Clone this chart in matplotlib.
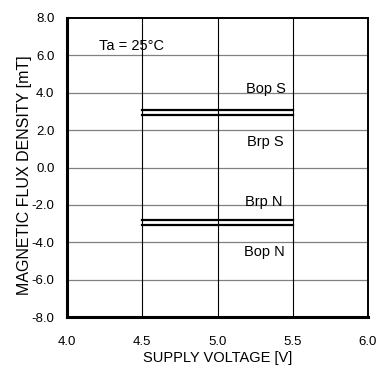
import matplotlib
matplotlib.use("Agg")
import matplotlib.pyplot as plt

plt.rcParams['font.family'] = ['Liberation Sans', 'DejaVu Sans']

# threshold lines (mT), drawn from 4.5 V to 5.5 V
vdd_range = [4.5, 5.5]
bop_s = 3.1
brp_s = 2.8
brp_n = -2.8
bop_n = -3.1

x_ticks = [4.0, 4.5, 5.0, 5.5, 6.0]
y_ticks = [-8.0, -6.0, -4.0, -2.0, 0.0, 2.0, 4.0, 6.0, 8.0]

W, H = 377, 365
fig = plt.figure(figsize=(W / 100, H / 100), dpi=100)
ax = fig.add_axes([67 / W, 1 - 317 / H, 301 / W, 299 / H])
ax.set_xlim(4.0, 6.0)
ax.set_ylim(-8.0, 8.0)

for yv in y_ticks[1:-1]:
    ax.axhline(yv, color='#808080', lw=0.9, zorder=1)
for xv in x_ticks[1:-1]:
    ax.axvline(xv, color='black', lw=0.8, zorder=1)

for val in [bop_s, brp_s, brp_n, bop_n]:
    ax.plot(vdd_range, [val, val], color='black', lw=1.6, zorder=3)

ax.set_xticks(x_ticks)
ax.set_xticklabels([f'{v:.1f}' for v in x_ticks])
ax.set_yticks(y_ticks)
ax.set_yticklabels([f'{v:.1f}' for v in y_ticks])
ax.tick_params(length=0, labelsize=9.5)
ax.tick_params(axis='x', pad=14)
ax.tick_params(axis='y', pad=9)

ax.spines['left'].set_linewidth(2.2)
ax.spines['bottom'].set_linewidth(2.2)
ax.spines['top'].set_linewidth(1.4)
ax.spines['right'].set_linewidth(1.4)

fs = 10.5
ax.text(4.43, 6.5, 'Ta = 25°C', fontsize=fs, ha='center', va='center')
ax.text(5.32, 4.2, 'Bop S', fontsize=fs, ha='center', va='center')
ax.text(5.32, 1.35, 'Brp S', fontsize=fs, ha='center', va='center')
ax.text(5.31, -1.85, 'Brp N', fontsize=fs, ha='center', va='center')
ax.text(5.31, -4.5, 'Bop N', fontsize=fs, ha='center', va='center')

fig.text(218 / W, 1 - 358 / H, 'SUPPLY VOLTAGE [V]', fontsize=10.5,
         ha='center', va='center')
fig.text(25 / W, 1 - 175 / H, 'MAGNETIC FLUX DENSITY [mT]', fontsize=11.5,
         ha='center', va='center', rotation=90)

fig.savefig('out.png', dpi=100)
